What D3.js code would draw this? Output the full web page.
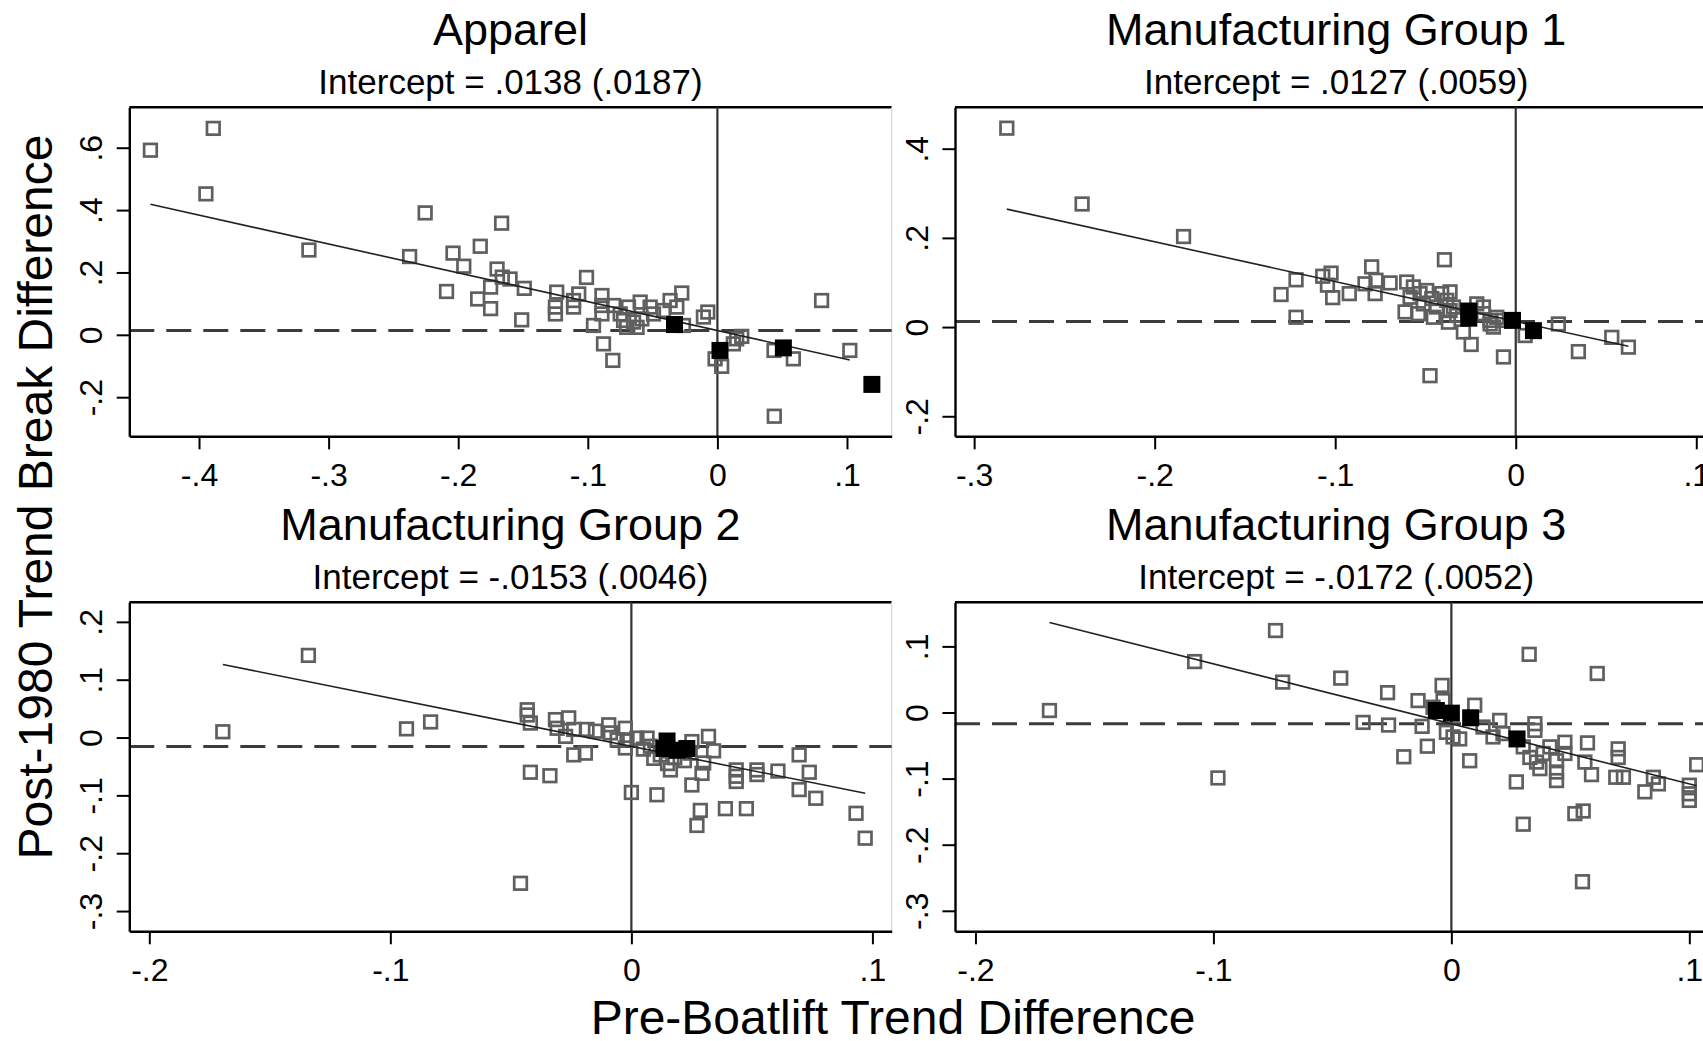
<!DOCTYPE html>
<html>
<head>
<meta charset="utf-8">
<script src="https://cdn.jsdelivr.net/npm/d3@7"></script>
<style>
  html, body { margin: 0; padding: 0; background: #fff; }
  svg { display: block; font-family: "Liberation Sans", Arial, Helvetica, sans-serif; }
</style>
</head>
<body>
<svg id="chart" width="1703" height="1041"></svg>
<script>
// ---------------- DATA ----------------
const panelTitles = ["Apparel", "Manufacturing Group 1", "Manufacturing Group 2", "Manufacturing Group 3"];
const subtitles = ["Intercept = .0138 (.0187)", "Intercept = .0127 (.0059)", "Intercept = -.0153 (.0046)", "Intercept = -.0172 (.0052)"];
const intercepts = [0.0138, 0.0127, -0.0153, -0.0172];
const slopes = [-0.925, -0.893, -0.835, -0.908];
const xDomains = [[-0.4538, 0.1345], [-0.3106, 0.1117], [-0.2083, 0.108], [-0.2086, 0.1118]];
const yDomains = [[-0.3254, 0.7296], [-0.2449, 0.4928], [-0.335, 0.2338], [-0.331, 0.1667]];
const xTickVals = [[-.4, -.3, -.2, -.1, 0, .1], [-.3, -.2, -.1, 0, .1], [-.2, -.1, 0, .1], [-.2, -.1, 0, .1]];
const yTickVals = [[-.2, 0, .2, .4, .6], [-.2, 0, .2, .4], [-.3, -.2, -.1, 0, .1, .2], [-.3, -.2, -.1, 0, .1]];
const xAxisTitle = "Pre-Boatlift Trend Difference";
const yAxisTitle = "Post-1980 Trend Break Difference";

const apparelHollow = [[-0.4375,0.592],[-0.389,0.662],[-0.3947,0.452],[-0.3152,0.272],[-0.2375,0.251],[-0.2255,0.391],[-0.1665,0.358],[-0.183,0.284],[-0.204,0.262],[-0.1957,0.220],[-0.170,0.211],[-0.166,0.185],[-0.160,0.179],[-0.175,0.153],[-0.149,0.149],[-0.209,0.139],[-0.185,0.115],[-0.175,0.084],[-0.151,0.048],[-0.101,0.184],[-0.124,0.137],[-0.125,0.089],[-0.125,0.067],[-0.111,0.110],[-0.111,0.089],[-0.107,0.131],[-0.0891,0.126],[-0.0891,0.094],[-0.0891,0.067],[-0.0956,0.030],[-0.0801,0.094],[-0.075,0.067],[-0.0686,0.089],[-0.0647,0.041],[-0.0596,0.105],[-0.0583,0.051],[-0.0519,0.089],[-0.0493,0.067],[-0.0416,0.078],[-0.0365,0.110],[-0.0313,0.089],[-0.0275,0.134],[-0.0262,0.030],[-0.0108,0.057],[-0.0074,0.073],[-0.0879,-0.029],[-0.0807,-0.082],[-0.070,0.024],[-0.062,0.024],[-0.0724,0.046],[-0.0018,-0.077],[0.0033,-0.101],[0.0149,-0.013],[0.0188,-0.005],[0.0123,-0.029],[0.0437,-0.050],[0.0586,-0.077],[0.0804,0.110],[0.1022,-0.050],[0.0439,-0.261]];
const apparelSolid = [[-0.0331,0.033],[0.002,-0.050],[0.0509,-0.042],[0.1192,-0.159]];

const mg1Hollow = [[-0.2819,0.446],[-0.2402,0.276],[-0.184,0.203],[-0.130,0.073],[-0.1217,0.106],[-0.1217,0.022],[-0.1069,0.114],[-0.1023,0.121],[-0.1043,0.094],[-0.1014,0.066],[-0.0922,0.075],[-0.0798,0.135],[-0.0774,0.105],[-0.0835,0.097],[-0.0779,0.075],[-0.0696,0.099],[-0.0604,0.101],[-0.0613,0.034],[-0.0567,0.090],[-0.053,0.075],[-0.0539,0.030],[-0.0493,0.082],[-0.0465,0.064],[-0.0456,0.022],[-0.041,0.075],[-0.0382,0.060],[-0.0364,0.079],[-0.0373,0.011],[-0.0345,0.045],[-0.029,-0.011],[-0.0247,-0.039],[-0.0475,-0.109],[-0.0068,-0.067],[-0.0216,0.052],[-0.0179,0.030],[-0.0142,0.015],[-0.0105,0.022],[-0.0124,0.000],[0.0052,-0.019],[0.0236,0.007],[0.0347,-0.055],[0.0532,-0.023],[0.0624,-0.045],[-0.0395,0.151],[-0.0585,0.067],[-0.0512,0.052],[-0.0438,0.045],[-0.0364,0.037],[-0.0327,0.026],[-0.0179,0.045],[-0.0142,0.007],[-0.0068,0.015]];
const mg1Solid = [[-0.026,0.036],[-0.026,0.020],[-0.0018,0.015],[0.0098,-0.008]];

const mg2Hollow = [[-0.1695,0.010],[-0.134,0.142],[-0.0933,0.015],[-0.0833,0.027],[-0.0432,0.048],[-0.0432,0.039],[-0.0419,0.025],[-0.0315,0.031],[-0.0260,0.034],[-0.0308,0.016],[-0.0273,0.002],[-0.0239,0.014],[-0.0184,0.014],[-0.0149,0.011],[-0.0094,0.022],[-0.0087,0.008],[-0.0059,-0.004],[-0.0025,0.016],[-0.0018,-0.004],[-0.0025,-0.018],[0.0023,-0.001],[0.0065,-0.001],[0.0079,-0.015],[-0.0239,-0.030],[-0.0191,-0.027],[-0.0419,-0.060],[-0.0338,-0.066],[0.0,-0.095],[0.0106,-0.099],[0.0093,-0.036],[0.0162,-0.056],[0.0244,-0.027],[0.0251,-0.007],[0.0320,0.002],[0.0341,-0.023],[0.030,-0.044],[0.0293,-0.062],[0.0251,-0.082],[0.0286,-0.126],[0.0272,-0.152],[0.0390,-0.123],[0.0477,-0.123],[0.0435,-0.056],[0.0435,-0.067],[0.0435,-0.076],[0.0521,-0.056],[0.0521,-0.064],[0.0608,-0.058],[0.0696,-0.030],[0.0738,-0.060],[0.0696,-0.090],[0.0765,-0.105],[0.0932,-0.131],[0.0970,-0.174],[-0.046,-0.252],[0.012,-0.030],[0.018,-0.035],[0.022,-0.040],[0.005,-0.020],[0.015,-0.045]];
const mg2Solid = [[0.0148,-0.006],[0.0135,-0.019],[0.019,-0.022],[0.023,-0.019]];

const mg3Hollow = [[-0.1689,0.003],[-0.1079,0.077],[-0.0981,-0.099],[-0.0739,0.124],[-0.0709,0.046],[-0.0465,0.052],[-0.0371,-0.015],[-0.0268,0.030],[-0.0264,-0.019],[-0.020,-0.067],[-0.0140,0.018],[-0.0123,-0.021],[-0.0101,-0.051],[-0.0039,0.041],[-0.0035,0.018],[-0.0077,0.008],[-0.0021,-0.030],[0.0007,-0.037],[0.0035,-0.040],[0.0077,-0.073],[0.0098,0.011],[0.0133,-0.022],[0.0175,-0.037],[0.0203,-0.012],[0.0217,-0.032],[0.0327,0.088],[0.0613,0.059],[0.0351,-0.017],[0.0351,-0.027],[0.0273,-0.105],[0.0302,-0.169],[0.0302,-0.052],[0.033,-0.068],[0.0358,-0.075],[0.0372,-0.085],[0.0386,-0.062],[0.0414,-0.052],[0.0442,-0.073],[0.0442,-0.090],[0.0442,-0.103],[0.0477,-0.045],[0.0477,-0.062],[0.0572,-0.046],[0.0561,-0.075],[0.0589,-0.094],[0.0519,-0.153],[0.0554,-0.149],[0.0551,-0.256],[0.0701,-0.055],[0.0701,-0.068],[0.0691,-0.098],[0.0723,-0.098],[0.0813,-0.120],[0.0849,-0.098],[0.087,-0.108],[0.100,-0.110],[0.100,-0.123],[0.100,-0.133],[0.1031,-0.079]];
const mg3Solid = [[-0.0063,0.003],[0.0,-0.001],[0.0081,-0.008],[0.0276,-0.040]];

const hollowSeries = [apparelHollow, mg1Hollow, mg2Hollow, mg3Hollow];
const solidSeries = [apparelSolid, mg1Solid, mg2Solid, mg3Solid];

// ---------------- LAYOUT ----------------
const colX = [129.3, 955];
const rowY = [107.3, 602.3];
const plotW = 762.4, plotH = 329;
const fmt = d => d === 0 ? "0" : (d < 0 ? "-" : "") + String(Math.abs(d)).replace(/^0/, "");

const svg = d3.select("#chart");
svg.append("rect").attr("width", 1703).attr("height", 1041).attr("fill", "#fff");

panelTitles.forEach((title, i) => {
  const ox = colX[i % 2], oy = rowY[Math.floor(i / 2)];
  const g = svg.append("g").attr("transform", `translate(${ox},${oy})`);
  const x = d3.scaleLinear().domain(xDomains[i]).range([0, plotW]);
  const y = d3.scaleLinear().domain(yDomains[i]).range([plotH, 0]);

  // titles
  g.append("text").attr("x", plotW / 2).attr("y", -62).attr("text-anchor", "middle")
    .attr("font-size", 45).attr("fill", "#000").text(title);
  g.append("text").attr("x", plotW / 2).attr("y", -13.5).attr("text-anchor", "middle")
    .attr("font-size", 35).attr("fill", "#000").text(subtitles[i]);

  // frame top (black) and right (light gray)
  g.append("line").attr("x1", 0).attr("x2", plotW).attr("y1", 0).attr("y2", 0)
    .attr("stroke", "#000").attr("stroke-width", 2.4);
  g.append("line").attr("x1", plotW).attr("x2", plotW).attr("y1", 0).attr("y2", plotH)
    .attr("stroke", "#d8d8d8").attr("stroke-width", 1.2);

  // reference lines
  g.append("line").attr("x1", x(0)).attr("x2", x(0)).attr("y1", 0).attr("y2", plotH)
    .attr("stroke", "#333").attr("stroke-width", 2.2);
  g.append("line").attr("x1", 0).attr("x2", plotW).attr("y1", y(intercepts[i])).attr("y2", y(intercepts[i]))
    .attr("stroke", "#3c3c3c").attr("stroke-width", 3).attr("stroke-dasharray", "25,12");

  // hollow markers
  const ms = 12.6;
  g.append("g").selectAll("rect").data(hollowSeries[i]).join("rect")
    .attr("x", d => x(d[0]) - ms / 2).attr("y", d => y(d[1]) - ms / 2)
    .attr("width", ms).attr("height", ms)
    .attr("fill", "none").attr("stroke", "#5f5f5f").attr("stroke-width", 2.7);

  // fitted line over hollow-point range
  const ext = d3.extent(hollowSeries[i], d => d[0]);
  const fit = ext.map(v => [v, intercepts[i] + slopes[i] * v]);
  g.append("path").datum(fit)
    .attr("d", d3.line().x(d => x(d[0])).y(d => y(d[1])))
    .attr("fill", "none").attr("stroke", "#222").attr("stroke-width", 1.6);

  // solid markers
  const ss = 17;
  g.append("g").selectAll("rect").data(solidSeries[i]).join("rect")
    .attr("x", d => x(d[0]) - ss / 2).attr("y", d => y(d[1]) - ss / 2)
    .attr("width", ss).attr("height", ss).attr("fill", "#000");

  // axes
  const xa = g.append("g").attr("transform", `translate(0,${plotH})`)
    .call(d3.axisBottom(x).tickValues(xTickVals[i]).tickFormat(fmt).tickSize(13).tickSizeOuter(0));
  const ya = g.append("g")
    .call(d3.axisLeft(y).tickValues(yTickVals[i]).tickFormat(fmt).tickSize(12.6).tickSizeOuter(0));
  [xa, ya].forEach(a => {
    a.select(".domain").attr("stroke", "#000").attr("stroke-width", 2.4);
    a.selectAll(".tick line").attr("stroke", "#000").attr("stroke-width", 2);
    a.selectAll(".tick text").attr("fill", "#000").attr("font-size", 32)
      .attr("font-family", "Liberation Sans, Arial, sans-serif");
  });
  xa.selectAll(".tick text").attr("y", 50).attr("dy", 0);
  ya.selectAll(".tick text").attr("transform", "rotate(-90)")
    .attr("x", 0).attr("y", -27).attr("dy", 0).attr("text-anchor", "middle");
});

// axis titles
svg.append("text").attr("x", 893).attr("y", 1034).attr("text-anchor", "middle")
  .attr("font-size", 48).attr("fill", "#000").text(xAxisTitle);
svg.append("text").attr("transform", "translate(52,497) rotate(-90)").attr("text-anchor", "middle")
  .attr("font-size", 48).attr("fill", "#000").text(yAxisTitle);
</script>
</body>
</html>
